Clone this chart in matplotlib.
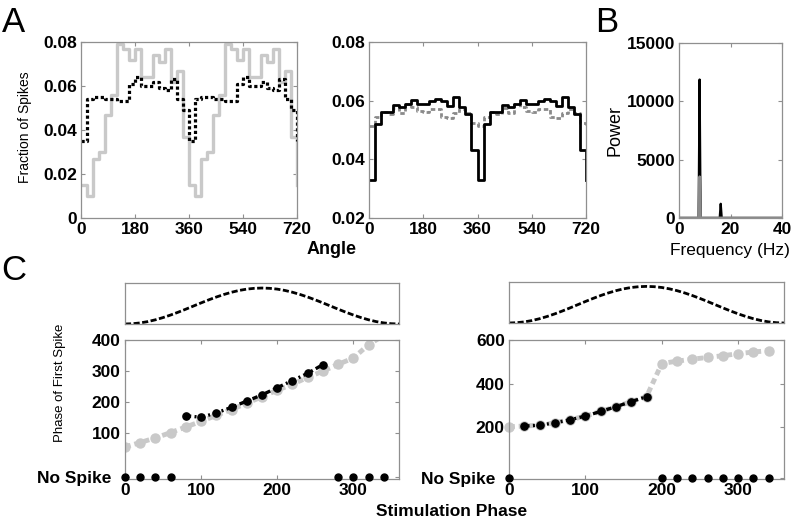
import matplotlib
matplotlib.use("Agg")
import matplotlib.pyplot as plt
import numpy as np

plt.rcParams['font.family'] = ['Liberation Sans', 'DejaVu Sans']

# ---- panel A: spike phase histograms (20 deg bins, one cycle, shown twice) ----
angle_edges = list(range(0, 740, 20))
a1_gray = [0.015, 0.010, 0.027, 0.030, 0.047, 0.056, 0.079, 0.077, 0.072,
           0.077, 0.064, 0.064, 0.074, 0.071, 0.077, 0.062, 0.067, 0.037]
a1_black = [0.035, 0.054, 0.055, 0.055, 0.054, 0.054, 0.053, 0.053, 0.061,
            0.064, 0.060, 0.060, 0.062, 0.059, 0.058, 0.063, 0.054, 0.049]
a2_black = [0.033, 0.052, 0.056, 0.056, 0.0585, 0.058, 0.059, 0.0603, 0.0588,
            0.0588, 0.0598, 0.0606, 0.0600, 0.0582, 0.0612, 0.0577, 0.0553, 0.0432]
a2_gray = [0.0515, 0.0543, 0.0562, 0.0553, 0.0575, 0.0558, 0.0588, 0.0578, 0.0565,
           0.0560, 0.0570, 0.0572, 0.0543, 0.0540, 0.0557, 0.0570, 0.0557, 0.0525]

# ---- panel B: power spectrum ----
freq_black = [0, 7.6, 8.0, 8.4, 15.8, 16.2, 16.6, 40]
power_black = [0, 0, 11870, 0, 0, 1220, 0, 0]
freq_gray = [0, 7.6, 8.0, 8.4, 40]
power_gray = [30, 30, 3560, 30, 30]

# ---- panel C: stimulus and phase response curves ----
stim_x = list(range(0, 370, 10))
stim_y = [0, 0.008, 0.030, 0.067, 0.117, 0.179, 0.25, 0.329, 0.413, 0.5,
          0.587, 0.671, 0.75, 0.821, 0.883, 0.933, 0.970, 0.992, 1.0,
          0.992, 0.970, 0.933, 0.883, 0.821, 0.75, 0.671, 0.587, 0.5,
          0.413, 0.329, 0.25, 0.179, 0.117, 0.067, 0.030, 0.008, 0]

phase_x = list(range(0, 360, 20))
c1_gray = [57, 71, 86, 103, 121, 139, 158, 177, 197, 218, 239, 258, 280, 300,
           322, 342, 385, 415]
c1_black_x = list(range(80, 280, 20))
c1_black = [157, 152, 166, 184, 204, 224, 247, 270, 293, 321]
c1_nospike_x = [0, 20, 40, 60, 280, 300, 320, 340]

c2_gray = [202, 205, 209, 220, 234, 251, 272, 294, 317, 340, 492, 503, 512,
           520, 528, 537, 545, 551]
c2_black_x = list(range(20, 200, 20))
c2_black = [205, 209, 220, 234, 251, 272, 294, 317, 340]
c2_nospike_x = [0, 200, 220, 240, 260, 280, 300, 320, 340]

light = '#c9c9c9'
mid = '#8a8a8a'
spine = '#8f8f8f'
W, H = 796, 526


def box(l, t, r, b):
    return [l / W, 1 - b / H, (r - l) / W, (b - t) / H]


def style(ax, ticks=True):
    for s in ax.spines.values():
        s.set_color(spine)
        s.set_linewidth(0.9)
    if ticks:
        ax.tick_params(direction='in', top=True, right=True, length=3,
                       color=spine, labelsize=12.5, pad=3)
        for lab in ax.get_xticklabels() + ax.get_yticklabels():
            lab.set_fontweight('bold')
    else:
        ax.set_xticks([])
        ax.set_yticks([])


fig = plt.figure(figsize=(7.96, 5.26), dpi=100)

# A left
ax = fig.add_axes(box(81, 42, 297, 218))
ax.step(angle_edges, a1_gray + a1_gray + [a1_gray[0]], where='post',
        color=light, lw=2.4)
ax.step(angle_edges, a1_black + a1_black + [a1_black[0]], where='post',
        color='black', lw=2.3, linestyle=(0, (1, 0.8)))
ax.set_xlim(0, 720)
ax.set_ylim(0, 0.08)
ax.set_xticks([0, 180, 360, 540, 720])
ax.set_yticks([0, 0.02, 0.04, 0.06, 0.08])
ax.set_yticklabels(['0', '0.02', '0.04', '0.06', '0.08'])
style(ax)
fig.text(25 / W, 1 - 127 / H, 'Fraction of Spikes', rotation=90, fontsize=10,
         ha='center', va='center')

# A right
ax = fig.add_axes(box(369, 42, 586, 218))
ax.step(angle_edges, a2_gray + a2_gray + [a2_gray[0]], where='post',
        color=mid, lw=2.0, linestyle=(0, (1.6, 1.0)))
ax.step(angle_edges, a2_black + a2_black + [a2_black[0]], where='post',
        color='black', lw=2.0)
ax.set_xlim(0, 720)
ax.set_ylim(0.02, 0.08)
ax.set_xticks([0, 180, 360, 540, 720])
ax.set_yticks([0.02, 0.04, 0.06, 0.08])
ax.set_yticklabels(['0.02', '0.04', '0.06', '0.08'])
style(ax)
fig.text(332 / W, 1 - 249 / H, 'Angle', fontsize=13, fontweight='bold',
         ha='center', va='center')

# B
ax = fig.add_axes(box(679, 43, 782, 218))
ax.plot(freq_black, power_black, color='black', lw=1.6)
ax.plot(freq_gray, power_gray, color=mid, lw=1.6)
ax.set_xlim(0, 40)
ax.set_ylim(0, 15000)
ax.set_xticks([0, 20, 40])
ax.set_yticks([0, 5000, 10000, 15000])
style(ax)
fig.text(615 / W, 1 - 130 / H, 'Power', rotation=90, fontsize=13,
         ha='center', va='center')
fig.text(730 / W, 1 - 250 / H, 'Frequency (Hz)', fontsize=12.5,
         ha='center', va='center')

# C top stimulus panels
for l, t, r, b, top in [(125, 283, 399, 324, 1.14), (509, 282, 784, 323, 1.12)]:
    ax = fig.add_axes(box(l, t, r, b))
    ax.plot(stim_x, stim_y, color='black', lw=2.0, linestyle=(0, (2.2, 0.9)))
    ax.set_xlim(0, 360)
    ax.set_ylim(0, top)
    style(ax, ticks=False)

# C left bottom
ax = fig.add_axes(box(125, 340, 399, 479))
ax.plot(phase_x, c1_gray, color=light, lw=3.5, linestyle=(0, (1.2, 0.8)),
        marker='o', ms=6.5, mec=light, mfc=light, zorder=2)
ax.plot(c1_black_x, c1_black, color='black', lw=2.4,
        linestyle=(0, (1.6, 1.0, 0.6, 1.0)), marker='o', ms=5.2, zorder=3)
ax.plot(c1_nospike_x, [-41] * len(c1_nospike_x), 'o', color='black', ms=5,
        clip_on=False, zorder=4)
ax.set_xlim(0, 360)
ax.set_ylim(-46, 400)
ax.set_xticks([0, 100, 200, 300])
ax.set_yticks([-41, 100, 200, 300, 400])
ax.set_yticklabels(['No Spike  ', '100', '200', '300', '400'])
style(ax)
fig.text(60 / W, 1 - 383 / H, 'Phase of First Spike', rotation=90,
         fontsize=9.5, ha='center', va='center')

# C right bottom
ax = fig.add_axes(box(509, 340, 784, 479))
ax.plot(phase_x, c2_gray, color=light, lw=3.5, linestyle=(0, (1.2, 0.8)),
        marker='o', ms=6.5, mec=light, mfc=light, zorder=2, clip_on=False)
ax.plot(c2_black_x, c2_black, color='black', lw=2.4,
        linestyle=(0, (1.6, 1.0, 0.6, 1.0)), marker='o', ms=5.2, zorder=3)
ax.plot(c2_nospike_x, [-32] * len(c2_nospike_x), 'o', color='black', ms=5,
        clip_on=False, zorder=4)
ax.set_xlim(0, 360)
ax.set_ylim(-38, 600)
ax.set_xticks([0, 100, 200, 300])
ax.set_yticks([-32, 200, 400, 600])
ax.set_yticklabels(['No Spike  ', '200', '400', '600'])
style(ax)

fig.text(452 / W, 1 - 511 / H, 'Stimulation Phase', fontsize=12.5,
         fontweight='bold', ha='center', va='center')

# panel letters
fig.text(13 / W, 1 - 23 / H, 'A', fontsize=25, ha='center', va='center')
fig.text(607 / W, 1 - 23 / H, 'B', fontsize=25, ha='center', va='center')
fig.text(14 / W, 1 - 270 / H, 'C', fontsize=25, ha='center', va='center')

fig.savefig('out.png', dpi=100)
